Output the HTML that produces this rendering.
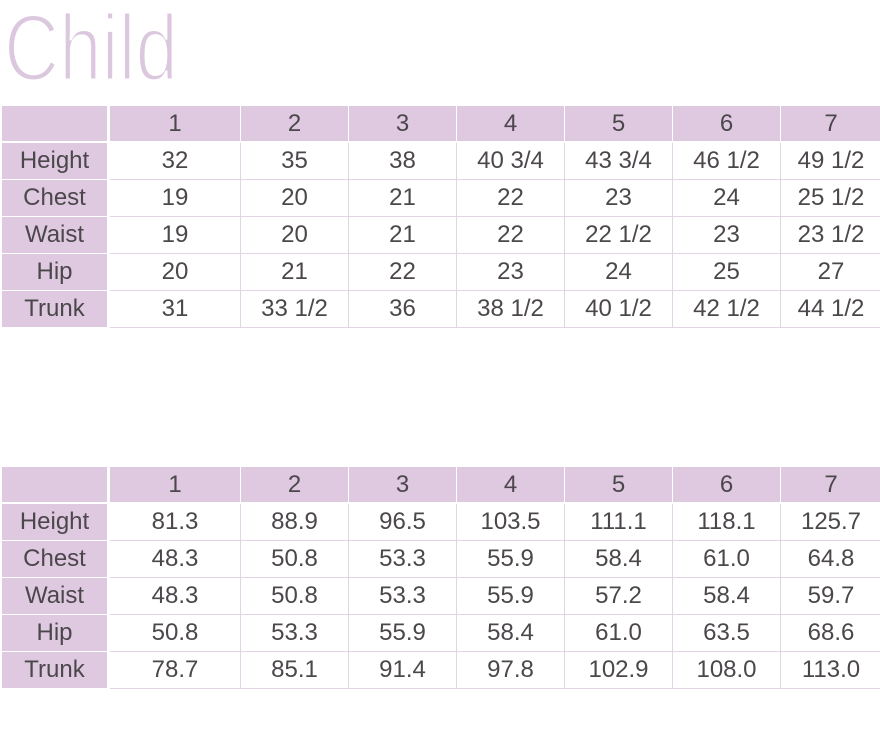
<!DOCTYPE html>
<html>
<head>
<meta charset="utf-8">
<style>
html,body{margin:0;padding:0;background:#fff;}
body{width:880px;height:732px;position:relative;overflow:hidden;font-family:"Liberation Sans",sans-serif;}
.c{position:absolute;text-align:center;color:#4b474b;font-size:24px;box-sizing:border-box;white-space:nowrap;}
.p{background:#dfc9e1;}
.w{background:#fff;}
.ln{position:absolute;background:#e3d4e5;}
</style>
</head>
<body>
<svg width="880" height="100" style="position:absolute;left:0;top:0">
<text x="4" y="80" font-family="Liberation Sans, sans-serif" font-size="94" fill="#dcc8de" stroke="#fff" stroke-width="3" textLength="174" lengthAdjust="spacingAndGlyphs">Child</text>
</svg>
<div id="t1"></div>
<script>
(function(){
var cols=[[110,239],[241,347],[349,455],[457,563],[565,671],[673,779],[781,880]];
var labels=["Height","Chest","Waist","Hip","Trunk"];
var d1=[["32","35","38","40 3/4","43 3/4","46 1/2","49 1/2"],
["19","20","21","22","23","24","25 1/2"],
["19","20","21","22","22 1/2","23","23 1/2"],
["20","21","22","23","24","25","27"],
["31","33 1/2","36","38 1/2","40 1/2","42 1/2","44 1/2"]];
var d2=[["81.3","88.9","96.5","103.5","111.1","118.1","125.7"],
["48.3","50.8","53.3","55.9","58.4","61.0","64.8"],
["48.3","50.8","53.3","55.9","57.2","58.4","59.7"],
["50.8","53.3","55.9","58.4","61.0","63.5","68.6"],
["78.7","85.1","91.4","97.8","102.9","108.0","113.0"]];
var h="";
function cell(x,y,w,hh,cls,txt){
 h+='<div class="c '+cls+'" style="left:'+x+'px;top:'+y+'px;width:'+w+'px;height:'+hh+'px;line-height:'+hh+'px">'+txt+'</div>';
}
function line(x,y,w,hh){h+='<div class="ln" style="left:'+x+'px;top:'+y+'px;width:'+w+'px;height:'+hh+'px"></div>';}
function table(top,data){
 cell(2,top,105,35,"p","");
 for(var j=0;j<7;j++){cell(cols[j][0],top,cols[j][1]-cols[j][0]+1,35,"p",String(j+1));}
 var r0=top+37;
 line(110,r0,770,37*5);
 for(var i=0;i<5;i++){
  var y=r0+37*i;
  cell(2,y,105,36,"p",labels[i]);
  for(var j=0;j<7;j++){
   var x0=cols[j][0], x1=cols[j][1];
   var xs = (j==0)?110:x0;
   cell(xs,y,x1-xs+1,36,"w",data[i][j]);
  }
 }
}
table(106,d1);
table(467,d2);
document.getElementById("t1").outerHTML=h;
})();
</script>
</body>
</html>
